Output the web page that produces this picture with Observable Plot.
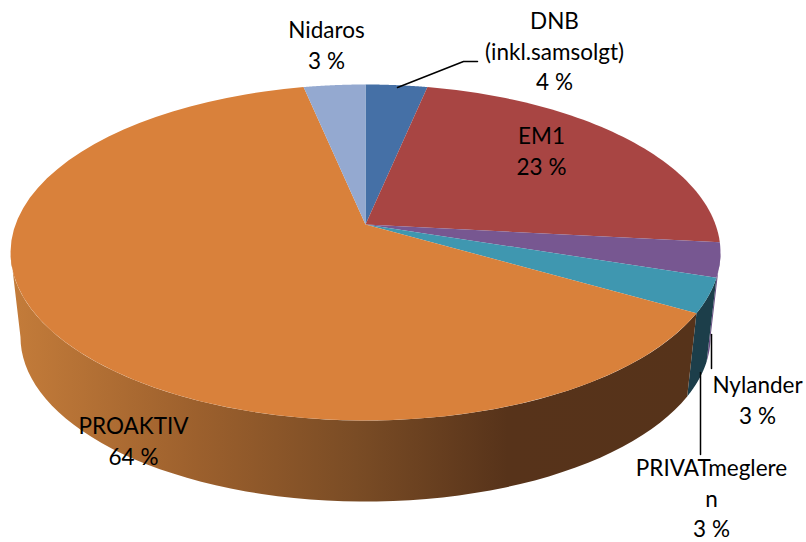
<!DOCTYPE html>
<html>
<head>
<meta charset="utf-8">
<style>html,body{margin:0;padding:0;background:#fff}svg{display:block}</style>
<script src="https://cdn.jsdelivr.net/npm/d3@7"></script>
<script src="https://cdn.jsdelivr.net/npm/@observablehq/plot@0.6"></script>
</head>
<body>
<div id="chart"></div>
<script>
// Data, clockwise from 12 o'clock
const categories = ["DNB\n(inkl.samsolgt)", "EM1", "Nylander", "PRIVATmeglere\nn", "PROAKTIV", "Nidaros"];
const shares = [3.3, 23.4, 3.3, 3.3, 63.4, 3.3];
const percentLabels = ["4 %", "23 %", "3 %", "3 %", "64 %", "3 %"];

// Styles
const topColors = ["#4570a6", "#a84543", "#775791", "#3f97b0", "#d9813b", "#94a9d0"];
const sideColors = ["#264060", "#5a2524", "#6b4f85", "#1c3e4a", "url(#wallOrange)", "#55617a"];

// Layout
const W = 806, H = 542;
const labelX = [554, 541, 757, 711, 133, 326];
const labelY = [7, 122, 371, 454, 412, 16];
const leaderX = [[397, 463, 477], [711, 711], [700, 700]];
const leaderY = [[87, 61, 61], [334, 368], [372, 454]];

// Perspective projection of the pie disc; angle in degrees clockwise from the top
const K = -1 / 6, A = 350, B = 163.33, CX = 365, CY = 224;
function topPt(deg) {
  const t = deg * Math.PI / 180, u = Math.sin(t), v = -Math.cos(t), w = 1 + K * v;
  return {x: CX + A * u / w, y: CY + B * v / w};
}
function botPt(deg) {
  const p = topPt(deg);
  return {x: CX + 0.972 * (p.x - CX), y: 309 + 0.98 * (p.y - CY)};
}
const angleRange = (a, b) => d3.range(0, 61).map(i => a + (b - a) * i / 60);

const total = d3.sum(shares);
let acc = 0;
const slices = shares.map((s, i) => {
  const a0 = acc / total * 360; acc += s;
  return {i, a0, a1: acc / total * 360};
});

const RIGHT_TANGENT = 99.6, LEFT_TANGENT = 260.4;
const wallMarks = slices
  .filter(s => s.a1 > RIGHT_TANGENT && s.a0 < LEFT_TANGENT)
  .map(s => {
    const a = angleRange(Math.max(s.a0, RIGHT_TANGENT), Math.min(s.a1, LEFT_TANGENT));
    const pts = [...a.map(topPt), ...a.slice().reverse().map(botPt)];
    return Plot.line(pts, {x: "x", y: "y", fill: sideColors[s.i], stroke: "none"});
  });
const topMarks = slices.map(s => {
  const pts = [{x: CX, y: CY}, ...angleRange(s.a0, s.a1).map(topPt)];
  return Plot.line(pts, {x: "x", y: "y", fill: topColors[s.i], stroke: "none"});
});

const gradientDefs = () => {
  const svg = d3.create("svg:g");
  const g = svg.append("defs").append("linearGradient")
    .attr("id", "wallOrange").attr("gradientUnits", "userSpaceOnUse")
    .attr("x1", 10).attr("x2", 700).attr("y1", 0).attr("y2", 0);
  [[0, "#c47c3a"], [0.27, "#9c602d"], [0.5, "#7a4c25"], [0.72, "#57331a"], [1, "#56331a"]]
    .forEach(([o, c]) => g.append("stop").attr("offset", o).attr("stop-color", c));
  return svg.node();
};

const labels = categories.map((c, i) => ({text: `${c}\n${percentLabels[i]}`, x: labelX[i], y: labelY[i]}));
const leaderMarks = leaderX.map((xs, i) =>
  Plot.line(xs.map((x, j) => ({x, y: leaderY[i][j]})), {x: "x", y: "y", stroke: "#000", strokeWidth: 1.5}));

const chart = Plot.plot({
  width: W, height: H,
  margin: 0,
  x: {domain: [0, W], range: [0, W], axis: null},
  y: {domain: [0, H], range: [0, H], axis: null},
  style: {background: "#fff"},
  marks: [
    gradientDefs,
    ...wallMarks,
    ...topMarks,
    ...leaderMarks,
    Plot.text(labels, {
      x: "x", y: "y", text: "text",
      textAnchor: "middle", lineAnchor: "top",
      fontFamily: "Lato", fontSize: 22.5, lineHeight: 1.36, fill: "#000"
    })
  ]
});
document.getElementById("chart").appendChild(chart);
</script>
</body>
</html>
